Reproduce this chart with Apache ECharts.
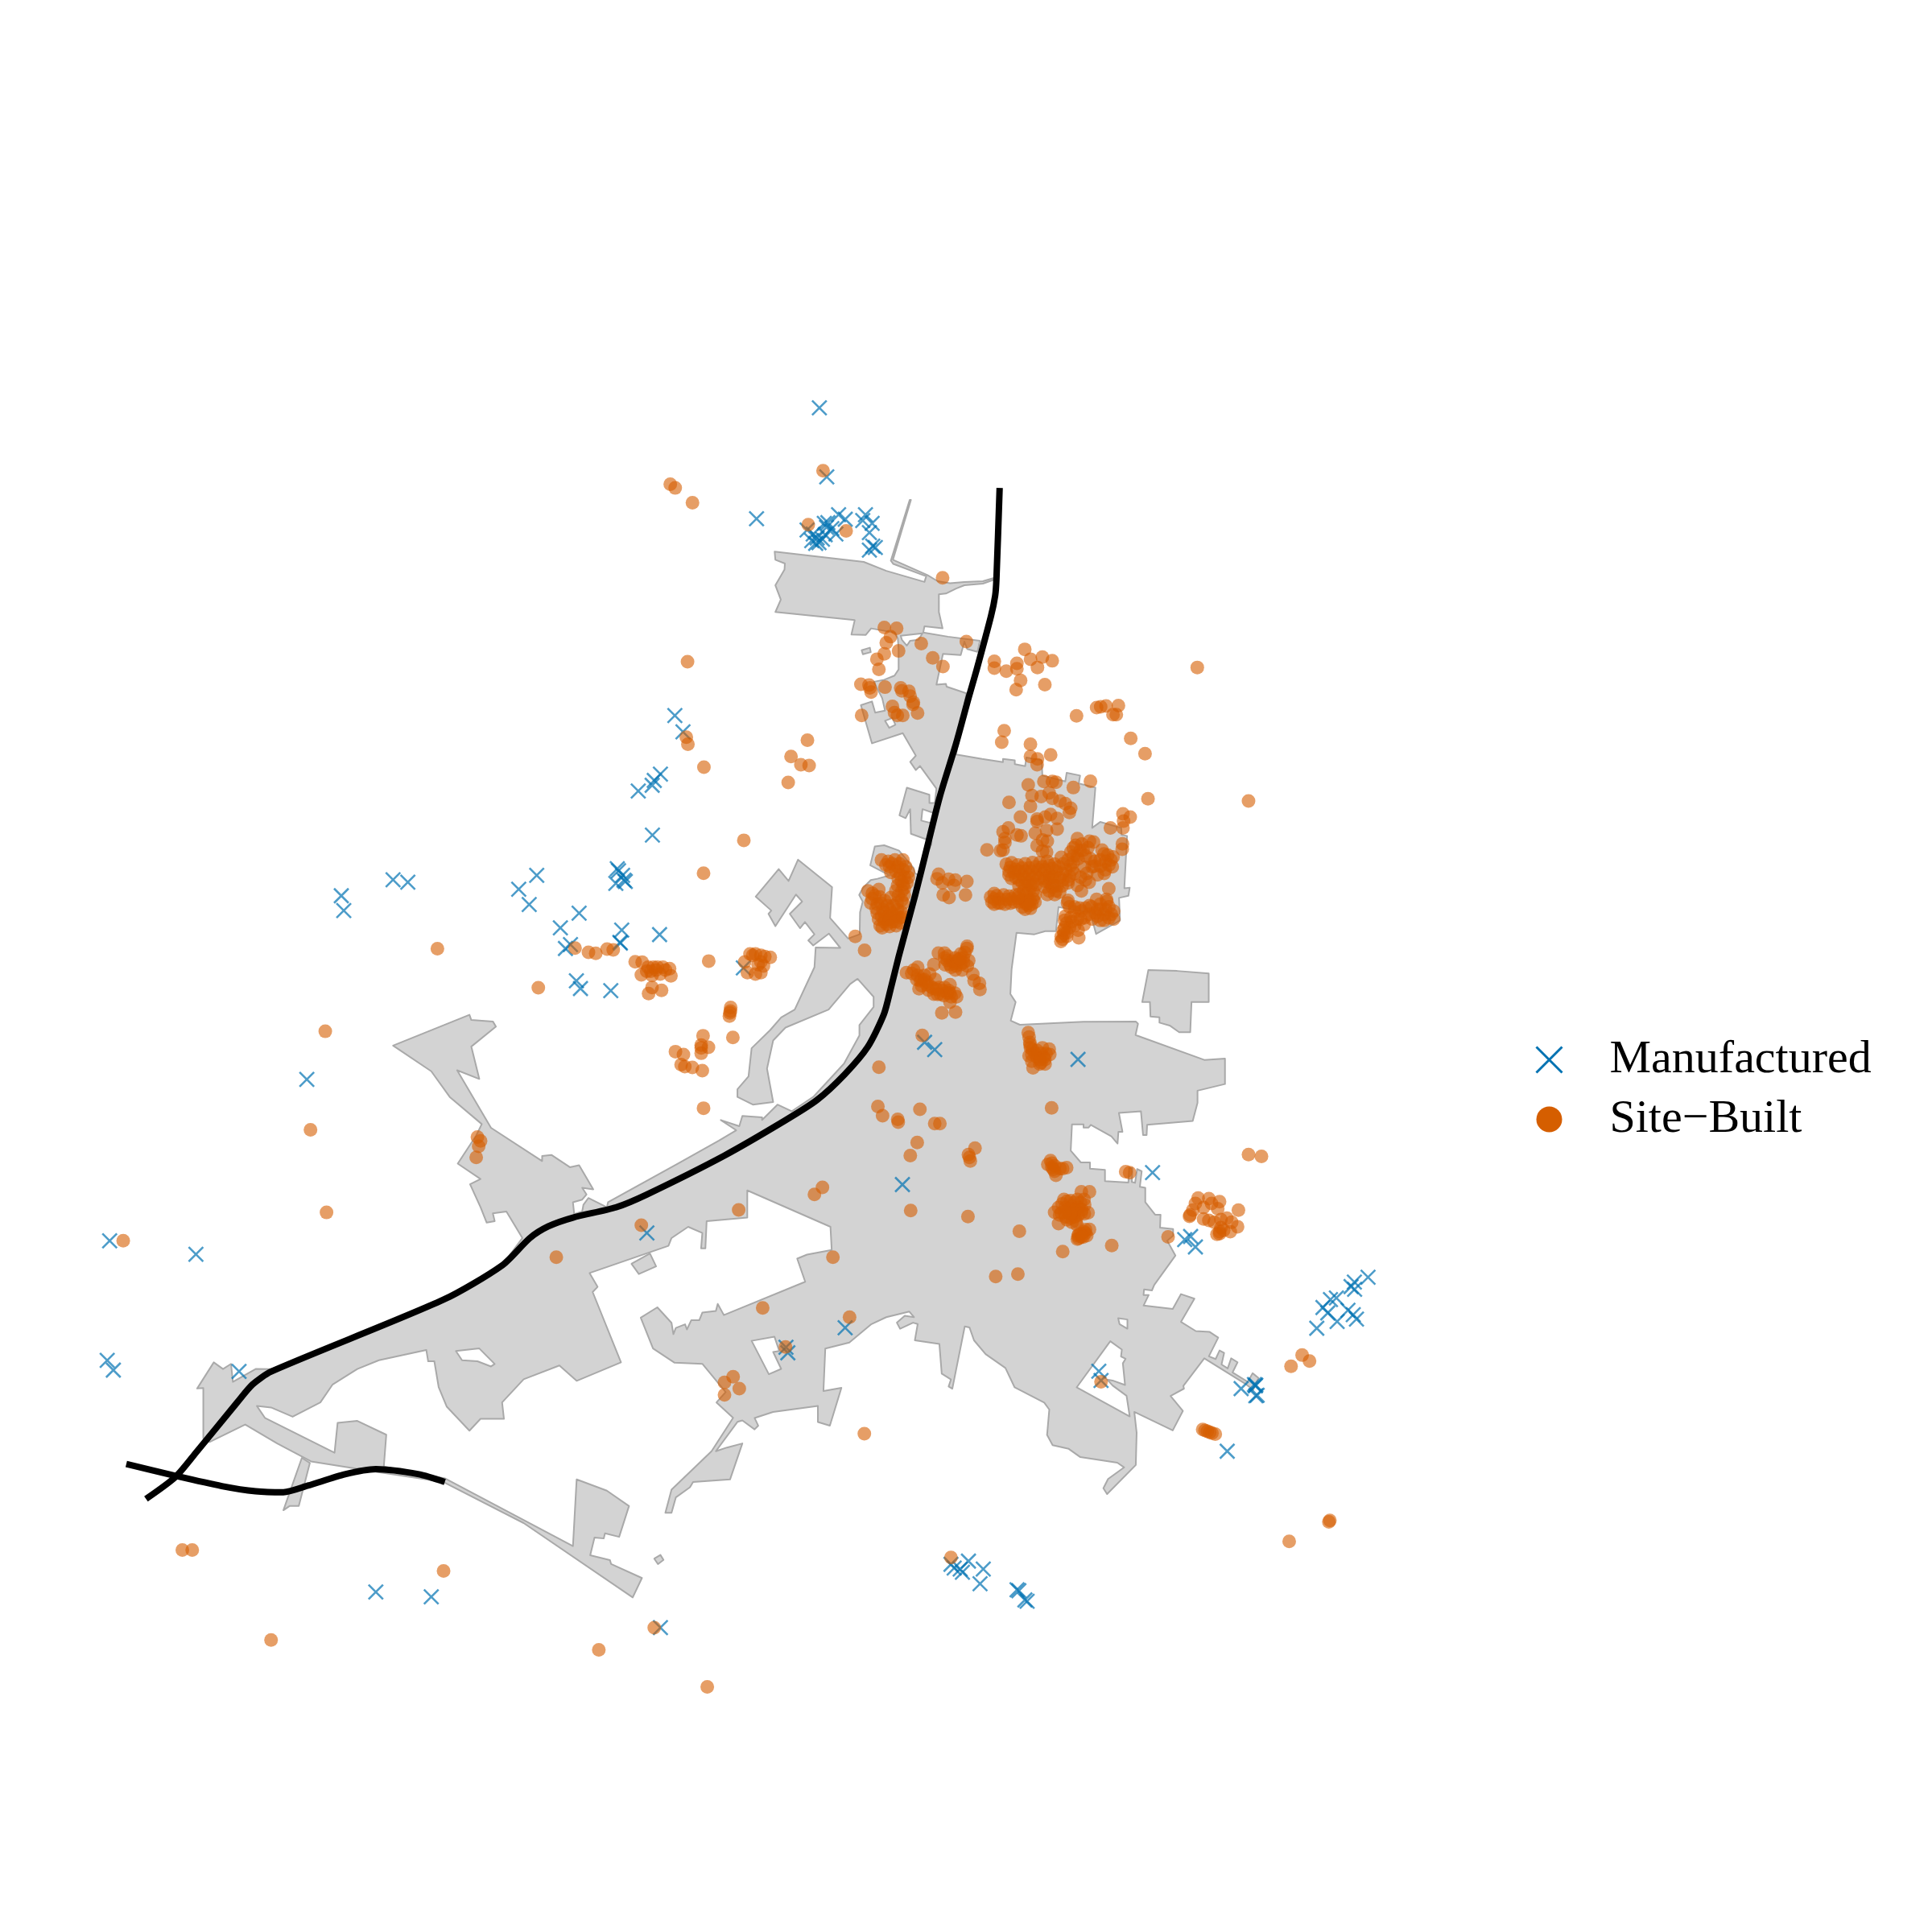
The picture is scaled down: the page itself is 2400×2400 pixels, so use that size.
<!DOCTYPE html>
<html><head><meta charset="utf-8">
<style>html,body{margin:0;padding:0;background:#fff}#c{width:2400px;height:2400px}</style>
<script src="https://cdn.jsdelivr.net/npm/echarts@6/dist/echarts.min.js"></script>
</head><body><div id="c"></div>
<script>
const cityOutline = [[628.7,447.7],[701,456],[719.3,463.3],[750.3,472.3],[751.7,467.7],[725,457.7],[723,455],[738.3,405.7],[739.3,405.7],[724.7,454.3],[752.7,466.7],[761,471.7],[771,473.3],[782.7,472.3],[797.7,471.7],[806,469.3],[806,470.7],[797.7,473.7],[782.7,475],[776,477.7],[767.7,481.7],[762,482.3],[762,496.7],[765,510],[750.3,508.3],[749.3,513.3],[769.3,516.7],[795.3,520],[793.3,529],[785,526.7],[782.7,520.7],[779.7,531.7],[765.3,530.7],[760,555.7],[767.7,555],[768.3,557.3],[784.3,562.7],[776,612.3],
[797,616],[814,618.5],[814,615.9],[823.6,617],[823.6,620.2],[832,621.8],[833,614.8],[845.4,617],[846,629.4],[864.6,634.2],[865.7,627.2],[876.6,629.4],[875.5,635.9],[889,639.2],[886.4,671.9],[892.9,667.1],[910,672],[910.3,677.7],[914.7,678.4],[912.5,720.9],[916.9,720.4],[915.8,727],[908.2,728.7],[909,747],[889.6,758],[884.8,740.5],[859.1,736.1],[857,755.7],[848.3,755.7],[839.5,758.3],[825,757],[821,786.7],[820,806.7],[824.3,813.3],[820.3,828.3],[827.7,831.7],[879.3,829.3],[921.8,829],[923.6,830.9],[921.6,840],[977.4,860.2],[994.2,859.1],[994.2,879.8],[971.9,885.2],[971.9,895],[968,909.8],[931,912.9],[930.6,921.2],[927.7,921.2],[926,902],[908.1,903.3],[911,918.6],[907.7,918.6],[907,928.1],[902,922.3],[885.3,912.9],[883.5,915.1],[879.4,915.1],[879.4,912.5],[870,912.5],[869,933.8],[877.2,943.4],[884.6,943.4],[884.6,948.4],[896.8,949.5],[896.8,958.6],[915.8,959.7],[916.4,948],[919,948],[918.6,959.3],[921.2,960],[922.9,948.8],[926.6,950.6],[925.1,963.2],[929.5,964],[929.5,975.6],[937.5,985.8],[941.9,985.8],[941.5,996.3],[952.1,997.4],[952.1,1002.8],[947.3,1007],[954,1019],[936.8,1042.8],[934.9,1047.3],[928.5,1046.5],[928.1,1051],[932.3,1051],[928.1,1059.6],[951.8,1062.3],[958.5,1050.3],[969.4,1054],[958.5,1072.8],[970.5,1080.3],[981.8,1081],[988.7,1085.6],[981.1,1100.8],[986.6,1103],[989.8,1096],[993.5,1098],[991.4,1107.4],[996.4,1110.6],[999.2,1102.4],[1004.4,1105.6],[1000.3,1113.9],[1012.7,1121.5],[1016.6,1114.5],[1021.4,1118.3],[1017,1128],[1011.6,1123.7],[977.4,1102.4],[960.4,1124.8],[960.9,1127],[950,1133],[960,1145.1],[951.8,1160.9],[920.6,1145.9],[922.5,1162.8],[921.8,1189],[898.5,1212.6],[895.5,1207.8],[899.3,1200.3],[912.4,1190.9],[906.8,1187.1],[876.8,1182.6],[867.4,1175.9],[854.3,1172.9],[849.8,1164.6],[851.6,1144],[847.5,1138.4],[823.5,1126],[816,1110.3],[799.9,1099],[790.5,1087.8],[786.8,1077.3],[783,1076.5],[772.9,1127.1],[769.9,1125.3],[771.8,1119.6],[764.3,1114.8],[762.4,1090.8],[742.5,1087.8],[744.8,1074.6],[741,1073.5],[730.5,1078.4],[727.9,1073.5],[734.3,1067.9],[741.8,1069],[738,1064.5],[719.3,1069],[707.3,1074.6],[689.3,1089.6],[669.8,1094.5],[668.3,1129],[682.9,1126.4],[673.5,1157.1],[663.8,1154.1],[663.8,1141],[627.4,1145.9],[612.4,1150.8],[615.4,1157.1],[612.4,1160.1],[602.5,1152.8],[598.5,1154],[581,1177.8],[590,1174.8],[602.5,1171.5],[592.5,1200.7],[562.5,1202.8],[560,1207],[548.5,1215.3],[545,1227.8],[540,1227.8],[545,1209],[577.5,1177.8],[595,1150.7],[581.5,1138.2],[589,1129.8],[570,1106.9],[547.5,1106],[530,1094.4],[520,1069.4],[533.5,1061],[545,1073.6],[546.5,1082.8],[548.5,1077.8],[556,1074.8],[557.5,1079],[561,1071.5],[567.5,1071.5],[570,1065.3],[581,1064],[582.5,1058.2],[587.5,1067.3],[653.5,1040.3],[647,1021.5],[655,1018.2],[675,1014.4],[674,995.7],[606.5,966.1],[606.5,988.2],[573.5,991.1],[572.5,1013.2],[569,1013.2],[570,1000.7],[558.5,995.7],[545,1004.8],[542.5,1011.1],[478.5,1033.2],[485,1044.4],[481,1048.6],[504,1105.7],[468,1120.7],[454,1108.2],[425,1119.4],[407.5,1138.2],[409,1151.5],[390,1151.5],[381,1161.1],[362.5,1141.5],[356,1125.7],[352.5,1104.8],[347.5,1104.8],[346,1095.7],[307.5,1104],[290,1111.1],[270,1123.6],[260,1138.2],[237.5,1149.8],[220,1142.3],[208.5,1141.1],[215,1150.7],[271.5,1179],[274,1154.8],[290,1153.2],[313.5,1164.4],[311.5,1190.3],[361,1199.8],[465,1254.8],[468,1200.7],[492.5,1209.8],[510.5,1222.3],[502.5,1247.3],[491,1244.4],[490,1248.6],[482.5,1247.8],[479,1262.3],[495,1266.1],[496,1269.4],[521,1280.7],[513.5,1296.5],[425,1236.1],[360,1202.8],[305,1194.4],[252.5,1186.1],[225,1171.5],[199,1156.1],[170,1170.3],[165,1167.3],[165,1126.5],[160,1126.9],[173.5,1105.7],[181,1111.1],[187.5,1106.9],[189,1121.5],[207.5,1111],[220,1111.1],[360,1054.8],[407.5,1027],[424,1004.8],[411,983.2],[400,984.8],[401.5,991.1],[395,992.3],[390,979.8],[381.5,961.1],[390,956.9],[371.5,944.4],[386.5,921.5],[391,912.3],[365,890.3],[350,869.4],[319,848.6],[381,823.6],[382.5,827.8],[400,829],[402.5,833.2],[382.5,849.4],[389,875.7],[371,868.6],[398.5,915.3],[440,942.3],[440,938.2],[447.5,937.3],[462.5,947.3],[470,945.7],[481.5,965.3],[472.5,964],[476,969.4],[472.5,973.6],[465,975.7],[466,985.3],[472.5,983.2],[473.5,977.8],[477.5,972.3],[492.5,979.8],[493.5,975.7],[550,944.4],[583.5,925.7],[597.5,917.3],[585,909],[600,914],[602.5,905.7],[618.5,906.9],[618.5,909],[631,896.5],[642.5,901.9],[660,890.3],[685,863.2],[697.5,840.3],[697.5,831.9],[709,817.3],[709,809],[696,794.4],[690,798.6],[672.5,819.4],[637.5,834],[627.5,844.4],[622.5,867.3],[627.5,894.4],[611,896.5],[598.5,890.3],[598.5,884],[607.5,873.6],[610,850.7],[625,836.1],[634,825.7],[645,819.4],[661,785],[662,769],[682,769.3],[672.7,757.7],[660,767.3],[656,763.3],[661,758.3],[653.3,748.3],[649.3,753.3],[641,741.7],[651,731.7],[646,726],[629.3,751.7],[623.7,741.7],[626,739],[613.3,727.7],[632,705.3],[640,715],[647.7,697.7],[675.3,720],[673.7,745],[688.3,761.7],[697.7,758.3],[698,740.4],[700.2,731.7],[697.3,726.3],[700.2,720.8],[706.7,714.3],[712.1,713.2],[722,710.4],[706.3,702.3],[710,687],[717.6,686],[729.6,690.3],[741.5,704.5],[742.6,708.8],[744.8,709.9],[756,685],[756,682.7],[739.3,676.7],[738.7,656.7],[735,664],[730,661.7],[736,639.3],[754.3,645],[754.3,651.7],[758.7,651.7],[760,640],[746.7,621.7],[743.3,625],[738.7,618.3],[743.3,613.3],[732.7,595],[707.7,603.3],[698.7,572.3],[707.7,569.3],[710.3,578.3],[718.3,576.7],[716,566.7],[709.3,553.3],[717.7,551.7],[726,548.3],[729.3,543.3],[729.3,526.7],[728.7,518.3],[726,513.3],[707,510],[702.7,515.3],[691,515],[693.7,503.3],[629.3,496.7],[633.7,486.7],[629.3,475],[636.7,462.3],[637,457.3],[629.3,454.3]];
const eastBlock = [[932,787.3],[955.3,788],[981,790],[981,813.3],[967,813.3],[966,837.7],[957,837.7],[949.3,832.3],[941,830],[941,825.7],[933.7,825],[933.3,813.3],[927,813.3]];
const northIsland = [[699.3,527.7],[706,525.7],[706.7,529.3],[700.3,531]];
const bayIsland = [[512.5,1025.7],[527.5,1017.3],[532.5,1027.8],[518.5,1034]];
const tailIsland = [[531,1265],[536,1262],[538.5,1266],[534,1269.4]];
const westFragment = [[245,1183.2],[230,1225.7],[235,1222.3],[242.5,1222.3],[251.5,1187.3]];
const holeNorth = [[731,516],[748.7,514],[745.3,519.3],[738.7,520],[736,524],[732,519.3]];
const holeNorth2 = [[718.3,585],[724.3,582.7],[726.7,588.3],[721.7,590.7]];
const holeLobe = [[748.7,656.7],[758.3,660],[757,668.3],[747.7,666]];
const holeSouthEast = [[873.8,1126],[901.1,1088.5],[910.5,1095.3],[909.8,1100.9],[913.5,1102.8],[911.3,1106.5],[913.1,1124.1],[903,1120.4],[898.5,1119.6],[903,1124.5],[914.3,1132.8],[916.9,1149.6]];
const holeEastSmall = [[907.5,1069.8],[915,1070.9],[915,1078.4],[908.6,1074.6]];
const holeSouth = [[610,1088.2],[628.5,1084.8],[632.5,1096.5],[627.5,1097.3],[634,1111],[624,1115.3]];
const holeWest = [[370,1096.5],[389,1094.4],[401.5,1107],[398.5,1109],[387.5,1104.8],[375,1104]];
const highwayMain = [[811.3,396],[808.7,470],[807.7,483.3],[804.3,500],[792.7,543.3],[786,566.7],[776,603.3],[762.7,646.7],[752.7,686.7],[742.7,726.7],[729.3,776.7],[722.7,803.3],[717.4,823],[704.3,849.6],[685.5,872],[663,892.8],[636.8,909.6],[588,937.8],[525,969.4],[500,979.8],[465,988.2],[445,995.3],[430,1004.8],[407.5,1027],[360,1054.8],[220,1113.2],[205,1123.6],[192.5,1138.2],[160,1177.8],[142.5,1198.6],[118.5,1216.5]];
const highwayWest = [[102.5,1188.2],[142.5,1197.8],[180,1206.1],[207.5,1210.3],[230,1211.1],[250,1205.7],[280,1196.5],[305,1192.3],[340,1196.5],[361,1202.8]];
const manufactured = [[665,331],[671,387],[614,421],[680.6,417.7],[686,421.4],[702.4,417.7],[707.8,424.7],[700.2,422.5],[705.6,432.3],[708.3,443.2],[705.6,446.5],[710.4,444.3],[655,430.1],[660,433.4],[658.8,438.8],[663.2,436.6],[664.7,440.4],[667.5,437.7],[671.9,424.2],[670.8,428],[675.1,429],[678.4,433.4],[669,424.7],[662,441],[669.7,434],
[529.5,677.7],[435.6,710.4],[421,721.7],[429.5,734.1],[470,741.1],[454.8,753],[504.6,754.8],[535.3,758.5],[463,766.6],[458.9,769.8],[503.1,764.8],[503.5,765.5],[467.8,796],[471.1,802.3],[495.7,804],[603.3,785.5],[501,705],[502,706.7],[505.3,710.4],[507.5,715.4],[499.8,716.9],[506.4,714.3],[547.7,580.7],[554.3,594],[536,628.3],[531,633.4],[529.3,637.3],[518,642],
[277,727],[279,739],[319,714],[331,716],[249,876],[89,1007],[159,1018],[87,1104],[92,1112],[194,1113],[305,1292],[350,1296],[536,1321],
[935.4,951.7],[961.5,1006.1],[966.3,1003.5],[970.2,1012],[750.4,845.9],[758.6,851.9],[874.9,859.8],[732.4,961.4],[525,1000.7],[685.9,1077.6],[637.9,1093.4],[639.4,1097.9],[891.8,1112.9],[893.6,1120.4],
[1007.3,1127],[1018.1,1123.7],[1019.2,1124.1],[1020.3,1132.4],[1019.2,1132.8],[1018.8,1124.8],[1110.3,1036.6],[1099.2,1040.5],[1096.5,1044.2],[1099.4,1046.4],[1084.6,1053.4],[1079.8,1054.7],[1073.7,1061.2],[1077.6,1065.6],[1094,1063.4],[1098.3,1067],[1100.9,1070.6],[1085.2,1072.5],[1068.7,1078],[996,1177.8],
[771.8,1269.6],[774.4,1272.6],[779.3,1273.4],[781.1,1276],[786,1267],[798,1273.4],[795.4,1285.4],[825.4,1290.3],[826.9,1291],[831.8,1298.5],[833.6,1299.6]];
const siteBuiltOutlying = [[544,393],[548,396],[562,408],[668,382],[656,425.8],[686.7,430.8],[765,469],[558,537],[557,598.3],[558.3,604],[571.3,622.7],[655.3,600.7],[642,614],[650,620.7],[656.7,621.3],[639.7,635],[603.7,682],[571,708.7],[355,770],[436.9,801.6],[264,837],[252,917],[265,984],[100,1007],[360,1275],[148,1258],[156,1258],[220,1331],[486,1339],[531,1321],[574,1369],[575.2,780],[571,899.4],[387.5,922.8],[390,926],[388.5,930.3],[386.5,939.4],[451.5,1020.3],[520.5,994.4],[599.5,982],[661,969.4],[667.5,963.6],[676,1020.3],[619,1061.5],[689.5,1069],[637.5,1093.2],[588,1122],[595,1117.3],[600,1127],[588,1132],[701.5,1163.6],[748.5,840.3],[713.3,866.1],[712.5,898],[716.3,905.5],[728.6,908.5],[729,910.8],[746.6,900.3],[758.6,911.9],[762.8,911.9],[744.4,927.3],[738.8,937.8],[791.3,931.8],[786,937],[787.5,942.3],[786.8,939.3],[739.1,982.4],[785.6,987.3],[853.5,899.1],[827.3,999.3],[862.5,1015.8],[902.3,1010.9],[826.1,1034.1],[808.1,1036],[948,1003.8],[913.6,951],[916.8,951.7],[893.6,1121.5],[1013.3,937],[1023.8,938.5],[1056.8,1099.8],[1062.8,1104.6],[1047.8,1108.8],[1046.3,1250.9],[1079.3,1234],[1078.5,1235.1],[771.8,1264],[978,1160.9],[979.9,1161.6],[981.8,1162.4],[983.6,1163.1],[986.3,1163.9],[976.1,1160.1],[971.7,541.7],[890,574.3],[893.3,573.7],[897.7,573],[907.7,572.7],[903.3,580],[906,580],[873.7,581],[917.7,599.3],[929.3,611.7],[931.7,648.3],[1013.3,650],[815,593],[813,602.3],[836.3,604],[852.7,612.7],[836.3,614],[842,616],[841.7,620.7],[885,634]];
const siteBuiltWest = [[466.7,769.4],[477.6,772.9],[483.5,773.7],[492.7,770.3],[497.7,770.9],[515.5,780.5],[521.2,780.9],[526,785],[530.3,785],[533.6,785],[538,785],[543.4,786.2],[520.5,791.2],[529.2,791.6],[535.8,790.5],[544.5,792],[529.2,801.4],[536.9,803.8],[526.4,806.4],[528.2,788.3],[532.5,787.3],[524.9,788.3],[540.1,787.3],[608.7,774.2],[613.1,774.2],[617.5,775.3],[625.1,777],[604.4,780.7],[606.6,789.4],[613.1,790.5],[617.5,789.4],[615.3,782.9],[619.6,784],[610.9,775.3],[620.7,776.4],[617.5,780.7],[593,817.7],[592.4,822.1],[592,824.7],[592.8,820.6],[594.8,842],[570.6,840.6],[569.1,848.2],[569.1,850.4],[569.1,854.8],[575,850],[548.2,853.5],[554.7,855.9],[552.8,864],[555.8,865.7],[561.9,866.3],[570,868.9]];
const siteBuiltSouthEast = [[834.5,838],[835.2,841.7],[835.8,846],[836.3,850.4],[837.4,855.8],[835.2,856.9],[838.4,866.7],[837.4,861.3],[841.7,858],[841.7,852.6],[846,850.4],[851.5,851.5],[852,855.8],[848.2,863.5],[845,862.4],[847.2,858],[843.9,863.5],[852.6,941.9],[850.4,945.1],[855.9,946.2],[853.7,947.3],[855.9,950.6],[857,953.8],[860.2,948.4],[865.7,947.7],[862.4,948.4],[853.7,944],[854.8,949],[884.2,967.3],[877.6,967.3],[863.5,973.4],[868.9,974.5],[874.4,973.4],[879.8,973.4],[859.1,980],[864.6,980],[870,978.9],[875.5,980],[880.3,977.8],[855.9,983.9],[861.3,984.3],[866.8,984.3],[872.2,984.3],[877.6,984.3],[883.1,984.3],[859.1,993],[873.3,990.9],[872.2,987.6],[868.9,988.7],[864.6,987.6],[875.5,1001.7],[879.8,999.6],[884.2,997.8],[874.4,1005.7],[877.6,1003.9],[882,1002.8],[880.9,1000.7],[875.5,1005],[972.4,972.3],[970.2,976.7],[981.1,972.8],[976.8,980],[983.3,976.7],[989.8,975.2],[988.3,981],[968.1,982.1],[965.9,986.1],[965.4,987.2],[1005.1,982.1],[976.8,989.3],[981.1,990.4],[985.5,991.9],[990.9,989.8],[995.7,988.7],[999.6,992],[1004.4,995.6],[998.5,999.6],[990.9,996.3],[989.8,999.6],[987.7,1001.7],[989.8,1001.3],[993.1,998.5],
[866,975],[872,976],[877,976],[862,977],[868,981],[873,982],[878,982],[860,986],[866,990],[870,992],[875,986],[874,994],[869,985],[864,984],[880,985],[877,1001],[881,998],[875,1003],[879,1004],[840,855],[845,855],[849,855],[844,860],[848,860],[838,852],[836,848]];
const siteBuiltNorth = [[717.7,509.3],[727.7,510],[722.7,516.7],[719.3,521.7],[729.3,528.3],[717.7,530.7],[711.7,535],[713.3,543.3],[747.7,522.3],[757,534],[765.3,541],[784.3,520.7],[698.7,555.3],[705.3,556],[706,558.3],[707,561.7],[718.3,557.7],[731,558.3],[732,560.7],[737.7,561],[738.7,565],[741,571.7],[724.3,573.3],[726,578.3],[728.3,580.7],[732.7,580.7],[744.7,578.7],[699.3,580.7],[741.3,570],[807,536.7],[807,542.3],[816.7,544.7],[825.3,538.3],[825.3,542.7],[831.7,527],[836.4,535],[846,533.3],[854,536.3],[842,541.7],[828.3,552.3],[824.7,559.7],[848,555.7]];
const siteBuiltNorthEast = [[834.5,637],[847.2,634.2],[854.1,634.2],[857,634.8],[871.1,639.2],[837.6,645.7],[845,646.4],[851.5,643.5],[854.1,647.9],[860.2,650],[864.6,652.2],[869,656],[867.9,659.4],[818.9,651.2],[836.3,654.4],[828.2,663.1],[841.7,664.7],[841.7,666.8],[848.3,663.1],[852.6,661],[858,664.2],[858,672.9],[849.4,674],[840.2,676.2],[818.4,671.9],[814.1,675.1],[815.6,680.6],[815.6,683.8],[825.4,677.7],[828.7,678.4],[801,689.7],[811.9,690.4],[814.1,689.9],[846.1,681.7],[850,682.7],[841.7,686.4],[846.1,690.8],[849.4,691.5],[874.4,680.6],[884.2,682.7],[887.5,683.4],[871.1,688.2],[876.6,690.4],[869,691.5],[894.4,689.9],[903.4,695.4],[901.6,698],[902.7,703.4],[897.3,699.1],[892.9,698],[888.5,699.1],[896.2,708.9],[890.7,710],[886.4,703.4],[882,708.9],[880.9,714.3],[877.7,723],[899.9,721.3],[911.4,660.5],[917.3,663.1],[911.9,666.4],[911.4,671.9],[901.2,671.9],[911,684.9],[910.8,689.3],[874.4,694.7],[880.9,694.7],[871.1,694.7],[861.3,695.8],[866.8,698],[869,702.3],[859.2,703.4],[862.4,708.9],[866.8,714.3],[860.2,712.1],[874.4,718.7],[816.7,701.3],[821,700.2],[824.3,705.6],[829.7,704.5],[835.2,704.5],[840.6,703.4],[846.1,703.4],[851.5,702.3],[855.9,701.3],[818.9,710],[824.3,712.1],[829.7,710],[835.2,710],[840.6,710],[846.1,708.9],[851.5,710],[834.1,716.5],[838.5,716.5],[829.7,716.5],[835.2,723],[838.5,723],[830.8,723],[829.7,729.6],[834.1,729.6],[838.5,729.6],[829.7,736.1],[836.3,737.2],[833,733.9],[837.4,733.9],[806.9,725.2],[806.9,729.6],[806.9,733.9],[811.2,729.6],[814.5,726.3],[815.6,733.9],[818.9,727.4],[821,729.6],[824.3,726.3],[810.1,732.8],[851.5,716.5],[855.9,718.7],[851.5,723],[857,723],[862.4,714.3],[866.8,716.5],[866.8,730.7],[866.4,732.8],[872.2,736.1],[884.2,735],[892.9,733.9],[898.3,731.7],[890.7,738.3],[897.3,738.3],[903.8,739.4],[903.8,745.9],[896.2,747],[890.7,743.7],[877.7,739.4],[864.6,743.7],[869,744.8],[874.4,745.9],[879.8,750.3],[872.2,751.4],[865.7,749.2],[863.5,757.9],[862.4,762.2],[875.5,761.2],[861.3,760],[865.7,760],[886.4,745.9],
[820,704],[826,702],[832,701],[838,700],[844,700],[850,699],[819,707],[823,708],[827,707],[832,707],[837,707],[843,706],[848,706],[854,705],[821,713],[827,714],[832,713],[838,713],[843,713],[848,713],[854,712],[827,719],[832,719],[837,719],[841,718],[827,726],[833,726],[840,726],[827,732],[832,732],[836,731],[840,732],[832,738],[835,735],[809,727],[812,733],[817,730],[804,728],[805,732],[820,733],[826,729],[823,732],
[848,715],[852,713],[848,720],[854,720],[858,719],[850,726],[856,726],[862,719],[860,724],[868,711],[865,706],[863,701],[857,707],[856,712],[871,700],[875,697],[879,690],[873,686],[878,685],[883,688],[885,697],[888,703],[893,703],[897,706],[900,702],[899,694],[896,693],[884,716],[880,704],[877,712],[872,709],[870,706],
[868,736],[872,740],[876,737],[870,748],[868,753],[864,753],[866,757],[861,764],[864,747],[881,737],[886,736],[889,741],[893,738],[896,742],[900,736],[902,742],[900,745],[893,747],[898,730],[875,755],[880,745],[884,742],[877,746],[863,755],[890,730]];
const siteBuiltCentre = [[715.4,698],[720.9,699],[726.3,698],[732.8,698],[722,703.4],[728.5,703.4],[735,703.4],[737.2,707.7],[730.7,709.9],[737.2,712.1],[731.7,715.4],[736.1,716.5],[728.5,718.6],[733.9,720.8],[733.9,726.3],[731.7,730.6],[704.5,723],[713.2,721.9],[707.8,729.5],[706.7,732.8],[712.1,733.9],[723,728.4],[711.1,737.2],[716.5,738.2],[722,738.2],[728.5,738.2],[731.7,740.4],[715.4,743.7],[720.9,743.7],[726.3,743.7],[730.7,744.8],[714.3,751.3],[719.8,750.2],[727.4,751.3],[717.6,748],[724.1,748],[730.7,749.1],[694.1,760],[701.7,771.3],[761.8,709.5],[760.5,713.2],[764.8,716.5],[769.9,713.6],[775.3,714.3],[774.2,718.6],[784.7,715.4],[765.5,726.3],[770.3,728.4],[783.6,726.3],[784.9,768],[784.7,769.8],[761.6,773.5],[766.6,773.5],[766.6,777.4],[768.8,779.6],[779.7,774.2],[775.3,777.4],[781.8,777.4],[786.2,779.6],[775.3,781.8],[779.7,782.9],[771,782.9],[785.1,784],[775.3,787.2],[780.8,787.2],[757.9,782.9],[789.5,790.5],[790.6,796],[794.9,798.1],[795.3,803.1],[735.7,789.4],[741.5,787.2],[744.8,785],[744.8,791.6],[750.3,791.6],[754.6,790.5],[747,796],[752.4,797],[759,794.9],[745.9,802.5],[753.5,803.6],[757.9,806.8],[762.2,801.4],[766.6,801.4],[771,799.2],[763.3,806.8],[768.8,805.8],[772,809],[776.4,809],[771,813.4],[764.4,822.1],[775.5,821.4],
[719,702],[724,701],[730,701],[733,706],[727,707],[723,708],[734,712],[729,713],[733,718],[727,723],[732,723],[729,727],[733,733],[728,733],[725,735],[720,735],[715,733],[710,727],[708,725],[714,728],[718,731],[712,741],[718,741],[723,741],[728,743],[713,746],[718,746],[722,746],[727,748],[733,744],[716,753],[722,752],
[769,776],[773,780],[778,779],[772,785],[776,784],[782,781],[767,783],[783,773],[779,778],[748,795],[752,799],[750,795],[756,801],[760,803],[765,804],[770,804],[766,808],[771,806],[775,806],[748,800],[744,795],[740,790],[761,807],[757,802]];
const legendLabels = ['Manufactured','Site\u2212Built'];

const landPolygons = [cityOutline, eastBlock, northIsland, bayIsland, tailIsland, westFragment];
const holePolygons = [holeNorth, holeNorth2, holeLobe, holeSouthEast, holeEastSmall, holeSouth, holeWest];
const siteBuilt = [].concat(siteBuiltOutlying, siteBuiltWest, siteBuiltSouthEast, siteBuiltNorth, siteBuiltNorthEast, siteBuiltCentre);

const BLUE = '#0072B2', ORANGE = '#D55E00', EDGE = '#A9A9A9';
const CROSS = 'path://M0 0L10 10M10 0L0 10';
function polygonSeries(list, fill) {
  return {
    type: 'custom', silent: true, clip: false, animation: false,
    data: list.map((_, i) => [i]),
    encode: { x: 0, y: 0 },
    renderItem: (params, api) => ({
      type: 'polygon',
      shape: { points: list[api.value(0)].map(p => api.coord(p)) },
      style: { fill: fill, stroke: EDGE, lineWidth: 2, lineJoin: 'round' }
    })
  };
}
function roadSeries(points) {
  return { type: 'line', data: points, symbol: 'none', smooth: 0.25, silent: true, animation: false,
    lineStyle: { color: '#000', width: 8, cap: 'butt', join: 'round' } };
}
const chart = echarts.init(document.getElementById('c'), null, { renderer: 'canvas' });
chart.setOption({
  animation: false,
  backgroundColor: '#fff',
  grid: { left: 0, right: 0, top: 0, bottom: 0 },
  xAxis: { type: 'value', min: 0, max: 1568, show: false },
  yAxis: { type: 'value', min: 0, max: 1568, inverse: true, show: false },
  legend: {
    orient: 'vertical', left: 1901, top: 1275, itemWidth: 32, itemHeight: 32, itemGap: 1,
    selectedMode: false,
    textStyle: { fontFamily: 'Liberation Serif', fontSize: 58, lineHeight: 58, color: '#000', padding: [15,0,0,54] },
    data: [
      { name: legendLabels[0], icon: CROSS, itemStyle: { color: 'none', borderColor: BLUE, borderWidth: 3, opacity: 1 } },
      { name: legendLabels[1], icon: 'circle', itemStyle: { color: ORANGE, opacity: 1 } }
    ]
  },
  series: [
    polygonSeries(landPolygons, '#D3D3D3'),
    polygonSeries(holePolygons, '#FFFFFF'),
    { name: legendLabels[0], type: 'scatter', data: manufactured, symbol: CROSS, symbolSize: 18, silent: true,
      itemStyle: { color: 'none', borderColor: BLUE, borderWidth: 2.6, opacity: 0.7 } },
    { name: legendLabels[1], type: 'scatter', data: siteBuilt, symbol: 'circle', symbolSize: 17, silent: true,
      itemStyle: { color: ORANGE, opacity: 0.6 } },
    roadSeries(highwayMain),
    roadSeries(highwayWest)
  ]
});
</script></body></html>
